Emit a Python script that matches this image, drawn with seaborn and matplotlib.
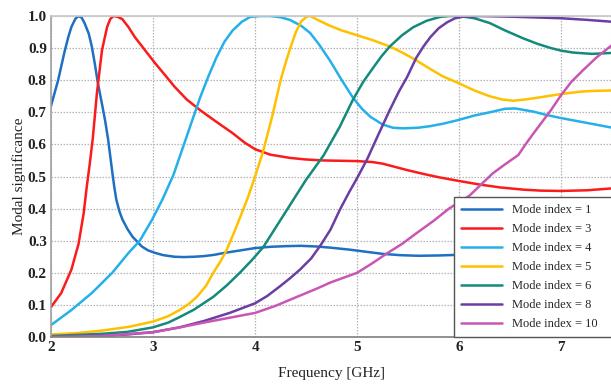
import numpy as np
import pandas as pd
import matplotlib
matplotlib.use("Agg")
import matplotlib.pyplot as plt
import seaborn as sns

# ---- data ----
f_m1 = [2.0, 2.07, 2.13, 2.17, 2.2, 2.24, 2.27, 2.3, 2.33, 2.37, 2.4, 2.43, 2.46, 2.5, 2.53,
        2.56, 2.58, 2.6, 2.62, 2.64, 2.67, 2.7, 2.75, 2.8, 2.89, 2.95, 3.02, 3.1, 3.21, 3.3,
        3.4, 3.5, 3.6, 3.7, 3.8, 3.9, 4.0, 4.15, 4.3, 4.45, 4.6, 4.75, 4.93, 5.1, 5.25,
        5.42, 5.6, 5.8, 6.0, 6.3, 6.6, 7.0, 7.5]
v_m1 = [0.72, 0.8, 0.885, 0.935, 0.966, 0.992, 1.0, 0.995, 0.977, 0.945, 0.905, 0.85, 0.79, 0.725, 0.675,
        0.615, 0.565, 0.515, 0.468, 0.428, 0.392, 0.366, 0.336, 0.312, 0.282, 0.27, 0.262, 0.255, 0.25, 0.249,
        0.25, 0.252, 0.256, 0.262, 0.267, 0.272, 0.277, 0.281, 0.283, 0.284, 0.282, 0.278, 0.272, 0.265, 0.259,
        0.255, 0.253, 0.254, 0.256, 0.258, 0.26, 0.26, 0.26]

f_m3 = [2.0, 2.1, 2.2, 2.27, 2.32, 2.35, 2.38, 2.41, 2.45, 2.5, 2.55, 2.58, 2.61, 2.65, 2.7,
        2.76, 2.82, 2.92, 3.02, 3.12, 3.21, 3.33, 3.46, 3.6, 3.78, 3.9, 4.0, 4.15, 4.34, 4.5,
        4.67, 5.0, 5.15, 5.25, 5.37, 5.49, 5.65, 5.81, 6.0, 6.2, 6.4, 6.63, 6.8, 7.0, 7.25, 7.5]
v_m3 = [0.093, 0.137, 0.21, 0.29, 0.385, 0.467, 0.54, 0.62, 0.76, 0.894, 0.966, 0.99, 1.0, 0.998, 0.99,
        0.965, 0.935, 0.894, 0.853, 0.815, 0.78, 0.74, 0.707, 0.675, 0.635, 0.605, 0.585, 0.568, 0.558, 0.553,
        0.55, 0.548, 0.545, 0.54, 0.53, 0.52, 0.508, 0.497, 0.486, 0.475, 0.466, 0.459, 0.456, 0.455, 0.457, 0.463]

f_m4 = [2.0, 2.2, 2.4, 2.6, 2.76, 2.87, 2.99, 3.09, 3.2, 3.33, 3.46, 3.54, 3.62, 3.7, 3.78,
        3.87, 3.95, 4.05, 4.15, 4.25, 4.34, 4.45, 4.54, 4.63, 4.73, 4.85, 4.96, 5.05, 5.13, 5.25,
        5.35, 5.45, 5.6, 5.72, 5.85, 5.98, 6.15, 6.3, 6.45, 6.55, 6.73, 6.85, 7.0, 7.25, 7.5]
v_m4 = [0.037, 0.084, 0.137, 0.2, 0.262, 0.3, 0.365, 0.427, 0.505, 0.625, 0.745, 0.81, 0.87, 0.92, 0.955,
        0.982, 0.997, 1.0, 1.0, 0.996, 0.988, 0.97, 0.947, 0.91, 0.863, 0.8, 0.745, 0.71, 0.686, 0.662,
        0.652, 0.65, 0.652, 0.657, 0.665, 0.675, 0.69, 0.7, 0.711, 0.712, 0.702, 0.692, 0.682, 0.667, 0.652]

f_m5 = [2.0, 2.25, 2.5, 2.77, 3.0, 3.15, 3.26, 3.35, 3.43, 3.52, 3.59, 3.66, 3.72, 3.78, 3.85,
        3.93, 4.0, 4.08, 4.17, 4.25, 4.3, 4.35, 4.4, 4.45, 4.5, 4.54, 4.6, 4.73, 4.85, 5.0,
        5.15, 5.32, 5.45, 5.58, 5.7, 5.84, 6.0, 6.15, 6.3, 6.42, 6.53, 6.65, 6.8, 7.0, 7.21,
        7.35, 7.5]
v_m5 = [0.008, 0.012, 0.02, 0.032, 0.048, 0.065, 0.084, 0.103, 0.125, 0.16, 0.2, 0.235, 0.27, 0.315, 0.37,
        0.435, 0.5, 0.58, 0.69, 0.8, 0.855, 0.905, 0.95, 0.982, 0.997, 1.0, 0.99, 0.97, 0.955, 0.94,
        0.925, 0.905, 0.885, 0.862, 0.838, 0.812, 0.79, 0.768, 0.75, 0.74, 0.736, 0.74, 0.747, 0.757, 0.765,
        0.767, 0.768]

f_m6 = [2.0, 2.5, 2.75, 3.0, 3.15, 3.26, 3.4, 3.59, 3.72, 3.85, 3.97, 4.08, 4.2, 4.34, 4.5,
        4.67, 4.83, 4.96, 5.06, 5.16, 5.24, 5.32, 5.44, 5.55, 5.68, 5.81, 5.9, 6.0, 6.15, 6.3,
        6.45, 6.63, 6.77, 6.9, 7.0, 7.12, 7.3, 7.5]
v_m6 = [0.003, 0.01, 0.016, 0.03, 0.045, 0.062, 0.085, 0.125, 0.16, 0.2, 0.24, 0.28, 0.34, 0.41, 0.49,
        0.565, 0.655, 0.74, 0.795, 0.84, 0.875, 0.905, 0.94, 0.965, 0.985, 0.997, 1.0, 1.0, 0.993, 0.978,
        0.955, 0.93, 0.913, 0.9, 0.892, 0.886, 0.882, 0.885]

f_m8 = [2.0, 2.5, 2.75, 3.0, 3.26, 3.5, 3.75, 4.0, 4.12, 4.24, 4.35, 4.44, 4.55, 4.64, 4.74,
        4.83, 4.92, 5.0, 5.1, 5.2, 5.32, 5.41, 5.49, 5.58, 5.65, 5.72, 5.8, 5.88, 5.96, 6.04,
        6.2, 6.5, 7.0, 7.25, 7.5]
v_m8 = [0.0, 0.004, 0.008, 0.015, 0.03, 0.05, 0.075, 0.105, 0.128, 0.157, 0.185, 0.21, 0.245, 0.285, 0.335,
        0.396, 0.45, 0.495, 0.555, 0.625, 0.707, 0.765, 0.81, 0.87, 0.905, 0.935, 0.962, 0.98, 0.993, 0.998,
        1.0, 0.998, 0.993, 0.988, 0.982]

f_m10 = [2.0, 2.5, 3.0, 3.26, 3.5, 3.75, 4.0, 4.2, 4.41, 4.6, 4.74, 4.87, 5.0, 5.15, 5.29,
         5.44, 5.58, 5.75, 5.9, 6.1, 6.33, 6.45, 6.58, 6.65, 6.73, 6.9, 7.0, 7.1, 7.21, 7.35, 7.5]
v_m10 = [0.0, 0.003, 0.015, 0.03, 0.045, 0.06, 0.075, 0.097, 0.125, 0.15, 0.17, 0.185, 0.2, 0.23, 0.26,
         0.29, 0.323, 0.362, 0.4, 0.44, 0.51, 0.538, 0.567, 0.6, 0.635, 0.707, 0.754, 0.795, 0.83, 0.872, 0.91]

labels = ["Mode index = 1", "Mode index = 3", "Mode index = 4", "Mode index = 5",
          "Mode index = 6", "Mode index = 8", "Mode index = 10"]
colors = ["#1f6fc2", "#fb1b1b", "#26b0ea", "#ffc000", "#138a7c", "#6a3ea3", "#c956b4"]

x_ticks = [2, 3, 4, 5, 6, 7]
y_ticks = [0.0, 0.1, 0.2, 0.3, 0.4, 0.5, 0.6, 0.7, 0.8, 0.9, 1.0]

series = [(f_m1, v_m1), (f_m3, v_m3), (f_m4, v_m4), (f_m5, v_m5),
          (f_m6, v_m6), (f_m8, v_m8), (f_m10, v_m10)]
frames = []
for lab, (f, v) in zip(labels, series):
    frames.append(pd.DataFrame({"Frequency": f, "Value": v, "Mode": lab}))
df = pd.concat(frames, ignore_index=True)

# ---- plotting ----
sns.set_theme(style="white")
plt.rcParams["font.family"] = ["Liberation Serif", "DejaVu Serif"]

fig = plt.figure(figsize=(6.11, 3.84), dpi=100)
ax = fig.add_axes([51 / 611, 1 - 337 / 384, 1 - 51 / 611 + 0.002, (337 - 16) / 384])

sns.lineplot(data=df, x="Frequency", y="Value", hue="Mode", hue_order=labels,
             palette=dict(zip(labels, colors)), sort=False, estimator=None,
             linewidth=1.8, ax=ax, legend=False)
for ln in ax.get_lines():
    ln.set_solid_joinstyle("round")
    ln.set_solid_capstyle("round")

ax.set_xlim(2, 7.5)
ax.set_ylim(0, 1.0)
ax.set_xticks(x_ticks)
ax.set_xticklabels([str(t) for t in x_ticks])
ax.set_yticks(y_ticks)
ax.set_yticklabels([f"{t:.1f}" for t in y_ticks])
ax.tick_params(axis="both", length=0, labelsize=11, colors="#222222", pad=3)
for lbl in ax.get_xticklabels() + ax.get_yticklabels():
    lbl.set_fontweight("bold")
ax.grid(True, linestyle=(0, (1.2, 1.2)), color="#b5b5b5", linewidth=0.9)
ax.set_axisbelow(True)

for s in ["left", "bottom", "top"]:
    ax.spines[s].set_visible(True)
    ax.spines[s].set_linewidth(1.2)
ax.spines["left"].set_color("#a0a0a0")
ax.spines["top"].set_color("#c8c8c8")
ax.spines["bottom"].set_color("#808080")
ax.spines["right"].set_visible(False)

ax.set_xlabel("Frequency [GHz]", fontsize=11, color="#222222", labelpad=9)
ax.set_ylabel("Modal significance", fontsize=11, color="#222222", labelpad=1)

handles = [plt.Line2D([0], [0], color=c, lw=1.8) for c in colors]
leg = ax.legend(handles, labels, loc="lower left", bbox_to_anchor=(0.718, 0.0, 0.32, 0.4),
                mode="expand", fontsize=9, frameon=True, fancybox=False, handlelength=3.3,
                handletextpad=0.8, labelspacing=0.56, borderpad=0.55, borderaxespad=0)
leg.get_frame().set_edgecolor("#555555")
leg.get_frame().set_linewidth(1.0)
leg.get_frame().set_facecolor("white")
leg.get_frame().set_alpha(1.0)

fig.savefig("out.png", dpi=100)
